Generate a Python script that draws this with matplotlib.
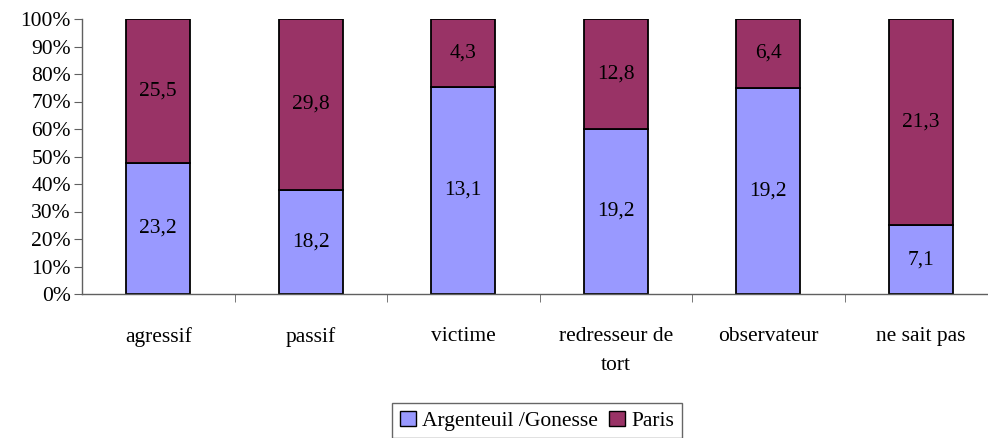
import numpy as np
import matplotlib
matplotlib.use("Agg")
import matplotlib.pyplot as plt
from matplotlib.patches import Patch

plt.rcParams['font.family'] = ['Liberation Serif', 'DejaVu Serif']

categories = ['agressif', 'passif', 'victime', 'redresseur de\ntort', 'observateur', 'ne sait pas']
argenteuil = [23.2, 18.2, 13.1, 19.2, 19.2, 7.1]
paris = [25.5, 29.8, 4.3, 12.8, 6.4, 21.3]
series_names = ['Argenteuil /Gonesse', 'Paris']
colors = ['#9999FF', '#993366']

a = np.array(argenteuil)
p = np.array(paris)
tot = a + p
a_pct = a / tot * 100
p_pct = p / tot * 100

fig = plt.figure(figsize=(9.88, 4.38), dpi=100)
W, H = 988, 438
left, right = 82, 997
bottom, top = 294, 19
ax = fig.add_axes([left / W, 1 - bottom / H, (right - left) / W, (bottom - top) / H])

x = np.arange(len(categories))
bw = 0.42
ax.bar(x, a_pct, bw, color=colors[0], edgecolor='black', linewidth=1.3)
ax.bar(x, p_pct, bw, bottom=a_pct, color=colors[1], edgecolor='black', linewidth=1.3)

fs = 15.5
for i in range(len(x)):
    ax.text(x[i], a_pct[i] / 2, f'{argenteuil[i]:.1f}'.replace('.', ','),
            ha='center', va='center', fontsize=fs)
    ax.text(x[i], a_pct[i] + p_pct[i] / 2, f'{paris[i]:.1f}'.replace('.', ','),
            ha='center', va='center', fontsize=fs)

ax.set_xlim(-0.5, len(categories) - 0.5)
ax.set_ylim(0, 100)
ax.set_yticks(np.arange(0, 101, 10))
ax.set_yticklabels([f'{v}%' for v in range(0, 101, 10)], fontsize=fs)
ax.set_xticks(x)
ax.set_xticklabels(categories, fontsize=fs, linespacing=1.7, va='top')
ax.set_xticks(np.arange(0.5, len(categories) - 0.5, 1), minor=True)
ax.tick_params(axis='x', which='major', length=0, pad=24)
ax.tick_params(axis='x', which='minor', length=6, color='#606060', direction='out')
ax.tick_params(axis='y', length=6, color='#606060', direction='out', pad=2)

for s in ['top', 'right']:
    ax.spines[s].set_visible(False)
for s in ['left', 'bottom']:
    ax.spines[s].set_color('#606060')
    ax.spines[s].set_linewidth(1.0)

handles = [Patch(facecolor=c, edgecolor='black', label=n) for c, n in zip(colors, series_names)]
fig.legend(handles=handles, loc='upper center', bbox_to_anchor=(537 / W, 1 - 403 / H),
           ncol=2, frameon=True, fancybox=False, edgecolor='#404040', fontsize=fs,
           handlelength=0.75, handleheight=0.75, handletextpad=0.3, columnspacing=0.5,
           borderpad=0.35, borderaxespad=0)

fig.savefig('out.png', dpi=100)
